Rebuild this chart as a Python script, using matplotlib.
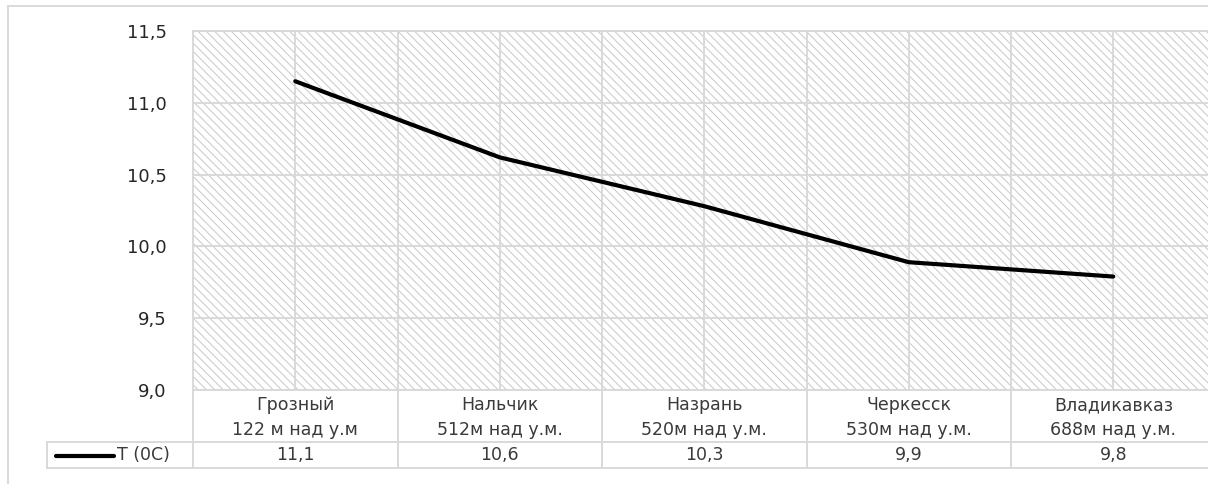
import numpy as np
import matplotlib.pyplot as plt
import matplotlib.transforms as mtransforms
from matplotlib.lines import Line2D

plt.rcParams['font.family'] = ['DejaVu Sans']
plt.rcParams['hatch.linewidth'] = 0.7
plt.rcParams['hatch.color'] = '#c8c8c8'

# Data
cities = ['Грозный', 'Нальчик', 'Назрань', 'Черкесск', 'Владикавказ']
heights = ['122 м над у.м', '512м над у.м.', '520м над у.м.', '530м над у.м.', '688м над у.м.']
temps = [11.15, 10.62, 10.28, 9.89, 9.79]
temp_labels = ['11,1', '10,6', '10,3', '9,9', '9,8']
series_name = 'T (0C)'
yticks = [9.0, 9.5, 10.0, 10.5, 11.0, 11.5]

W, H = 1208, 484
grid_col = '#d9d9d9'
text_col = '#3a3a3a'
fs = 12.5

fig = plt.figure(figsize=(W / 100, H / 100), dpi=100)

# plot area in pixels (right edge runs off the picture, as in the reference)
left, top, bottom = 193, 31, 390
right = 1215.5
ax = fig.add_axes([left / W, 1 - bottom / H, (right - left) / W, (bottom - top) / H])

x = np.arange(len(cities))
ax.set_xlim(-0.5, len(cities) - 0.5)
ax.set_ylim(9.0, 11.5)

# hatched background
ax.add_patch(plt.Rectangle((0, 0), 1, 1, transform=ax.transAxes, facecolor='white',
                           hatch='\\\\\\\\', edgecolor='#c8c8c8', linewidth=0, zorder=0))

ax.set_xticks(np.arange(-0.5, len(cities), 0.5))
ax.set_xticklabels([])
ax.set_yticks(yticks)
ax.set_yticklabels([f'{v:.1f}'.replace('.', ',') for v in yticks], fontsize=13, color='#262626')
ax.tick_params(length=0, pad=19)
ax.grid(True, color=grid_col, linewidth=1.4, zorder=1)
ax.set_axisbelow(True)
for s in ['right', 'bottom']:
    ax.spines[s].set_visible(False)
for s in ['top', 'left']:
    ax.spines[s].set_color(grid_col)
    ax.spines[s].set_linewidth(1.4)

ax.plot(x, temps, color='black', linewidth=3, solid_capstyle='round',
        solid_joinstyle='round', zorder=3)

# data table under the plot
ph = bottom - top
def yf(py):
    return -(py - bottom) / ph

trans = mtransforms.blended_transform_factory(ax.transData, ax.transAxes)
px = mtransforms.blended_transform_factory(fig.transFigure, ax.transAxes)
row1_bot, row2_bot = 442, 468
tab_left = 47

def hline(x0, x1, py, tr=trans):
    ax.add_line(Line2D([x0, x1], [yf(py), yf(py)], transform=tr, color=grid_col,
                       linewidth=1.4, clip_on=False))

hline(-0.5, 4.6, bottom)
hline(-0.5, 4.6, row1_bot)
hline(-0.5, 4.6, row2_bot)
hline(tab_left / W, left / W, row1_bot, tr=px)
hline(tab_left / W, left / W, row2_bot, tr=px)
ax.add_line(Line2D([tab_left / W] * 2, [yf(row1_bot), yf(row2_bot)], transform=px,
                   color=grid_col, linewidth=1.4, clip_on=False))
for b in np.arange(-0.5, len(cities), 1.0):
    ax.add_line(Line2D([b, b], [yf(bottom), yf(row2_bot)], transform=trans,
                       color=grid_col, linewidth=1.4, clip_on=False))

for i in range(len(cities)):
    ax.text(x[i], yf(405), cities[i], transform=trans, ha='center', va='center',
            fontsize=fs, color=text_col)
    ax.text(x[i], yf(430), heights[i], transform=trans, ha='center', va='center',
            fontsize=fs, color=text_col)
    ax.text(x[i], yf(455), temp_labels[i], transform=trans, ha='center', va='center',
            fontsize=fs, color=text_col)

# legend key in the table
ax.add_line(Line2D([56 / W, 114 / W], [yf(456)] * 2, transform=px, color='black',
                   linewidth=3, solid_capstyle='round', clip_on=False))
ax.text(117 / W, yf(455), series_name, transform=px, ha='left', va='center',
        fontsize=fs, color=text_col)

# outer chart frame
fig.add_artist(Line2D([8 / W, 1], [1 - 6 / H] * 2, color=grid_col, linewidth=1.4))
fig.add_artist(Line2D([8 / W] * 2, [0, 1 - 6 / H], color=grid_col, linewidth=1.4))

fig.savefig('out.png', dpi=100)
